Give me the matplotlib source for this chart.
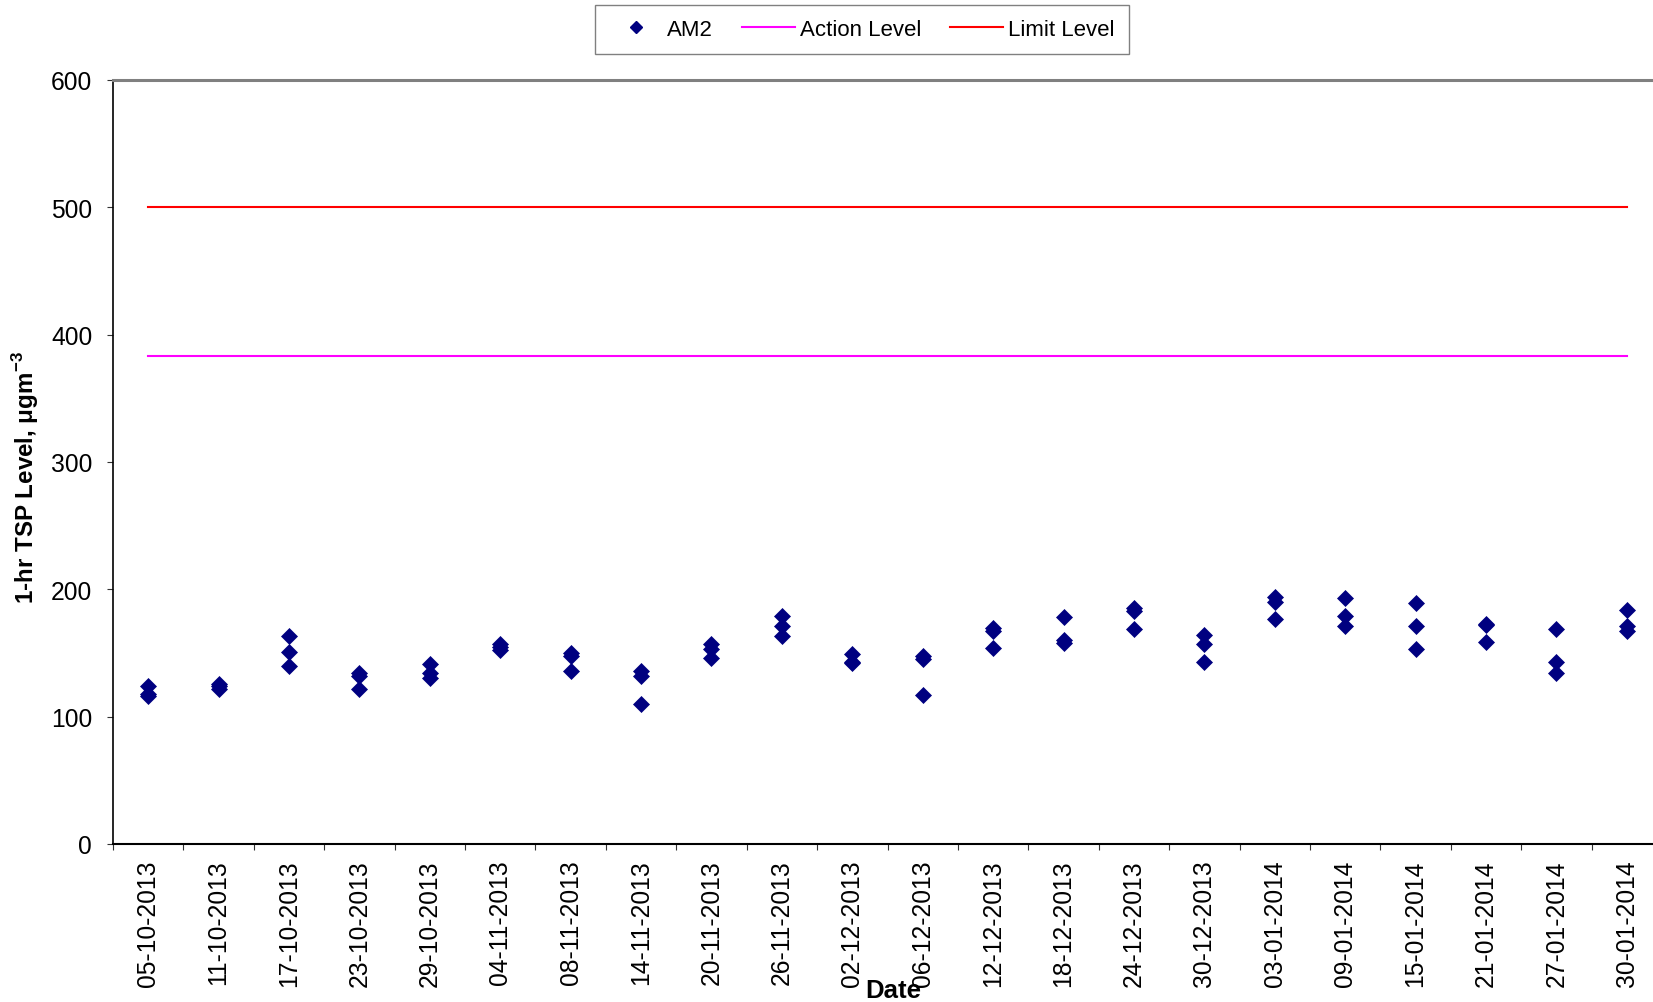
import matplotlib
matplotlib.use("Agg")
import matplotlib.pyplot as plt
import numpy as np
from matplotlib.lines import Line2D

plt.rcParams['font.family'] = ['Liberation Sans', 'DejaVu Sans']
plt.rcParams['mathtext.fontset'] = 'custom'
plt.rcParams['mathtext.rm'] = 'Liberation Sans'
plt.rcParams['mathtext.bf'] = 'Liberation Sans:bold'

dates = ["05-10-2013", "11-10-2013", "17-10-2013", "23-10-2013", "29-10-2013",
         "04-11-2013", "08-11-2013", "14-11-2013", "20-11-2013", "26-11-2013",
         "02-12-2013", "06-12-2013", "12-12-2013", "18-12-2013", "24-12-2013",
         "30-12-2013", "03-01-2014", "09-01-2014", "15-01-2014", "21-01-2014",
         "27-01-2014", "30-01-2014"]

am2_first = [124, 126, 163, 134, 141, 157, 150, 136, 157, 179, 149, 148, 170, 178, 185, 164, 194, 193, 189, 173, 169, 184]
am2_second = [118, 124, 151, 132, 134, 155, 148, 132, 153, 171, 143, 145, 167, 160, 183, 157, 190, 179, 171, 172, 143, 171]
am2_third = [116, 122, 140, 122, 130, 152, 136, 110, 146, 163, 142, 117, 154, 158, 169, 143, 177, 171, 153, 159, 134, 167]

action_level = 383
limit_level = 500

yticks = [0, 100, 200, 300, 400, 500, 600]

W, H = 1653, 1003
fig = plt.figure(figsize=(W / 100, H / 100), dpi=100)
left, right, top, bottom = 113, 1662, 81, 845
ax = fig.add_axes([left / W, 1 - bottom / H, (right - left) / W, (bottom - top) / H])

x = np.arange(len(dates))
navy = '#000080'
for vals in (am2_third, am2_second, am2_first):
    ax.plot(x, vals, linestyle='none', marker='D', markersize=7.8,
            markerfacecolor=navy, markeredgecolor=navy, markeredgewidth=0.5, clip_on=False)

ax.plot(x, [action_level] * len(x), color='#FF00FF', lw=1.5)
ax.plot(x, [limit_level] * len(x), color='#FF0000', lw=1.5)

ax.set_xlim(-0.5, len(dates) - 0.5)
ax.set_ylim(0, 600)
ax.set_yticks(yticks)
ax.set_yticklabels([str(v) for v in yticks], fontsize=17.7)
ax.set_xticks(x)
ax.set_xticklabels(dates, rotation=90, fontsize=17.7)
ax.set_xticks(np.arange(-0.5, len(dates), 1.0), minor=True)
ax.tick_params(axis='x', which='major', length=0, pad=11)
ax.tick_params(axis='x', which='minor', length=4.5, width=0.8, direction='out', color='#333333')
ax.tick_params(axis='y', which='major', length=4, width=0.8, pad=11, direction='out', color='#333333')

ax.spines['right'].set_visible(False)
ax.spines['top'].set_color('#808080')
ax.spines['top'].set_linewidth(2.2)
ax.spines['left'].set_color('black')
ax.spines['left'].set_linewidth(1.2)
ax.spines['bottom'].set_color('black')
ax.spines['bottom'].set_linewidth(1.5)

fig.text(26 / W, 1 - 478 / H, r"1-hr TSP Level, μgm$^{\mathbf{-3}}$", rotation=90,
         fontsize=17.4, fontweight='bold', ha='center', va='center')
fig.text(893 / W, 1 - 991 / H, "Date", fontsize=18.5, fontweight='bold', ha='center', va='center')

handles = [
    Line2D([], [], linestyle='none', marker='D', markersize=6, color=navy),
    Line2D([], [], color='#FF00FF', lw=1.5),
    Line2D([], [], color='#FF0000', lw=1.5),
]
leg = fig.legend(handles, ["AM2", "Action Level", "Limit Level"], loc='center',
                 bbox_to_anchor=(862 / W, 1 - 30.5 / H), ncol=3, fontsize=16,
                 frameon=True, fancybox=False, edgecolor='#808080', framealpha=1,
                 handlelength=2.4, handletextpad=0.2, columnspacing=1.3,
                 borderpad=0.64)
leg.get_frame().set_linewidth(1.0)

fig.savefig("out.png", dpi=100)
